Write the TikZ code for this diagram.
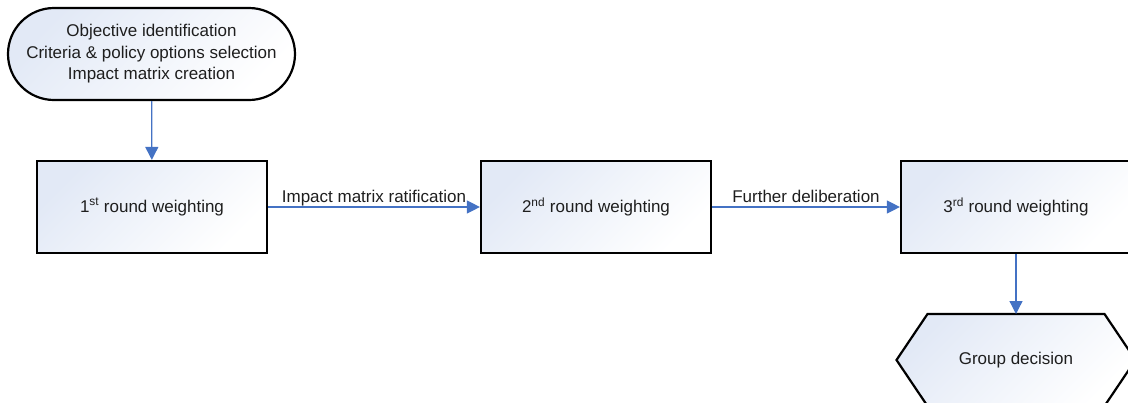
\documentclass[tikz,border=0pt]{standalone}
\usepackage{fontspec}
\setmainfont{Liberation Sans}
\usetikzlibrary{arrows.meta,calc}
\definecolor{arrowblue}{HTML}{4472C4}
\definecolor{shadeblue}{HTML}{E2E9F6}
\definecolor{txt}{HTML}{1E1E1E}
\begin{document}
\begin{tikzpicture}[x=1pt,y=-1pt,
  lbltext/.style={font=\fontsize{17}{21.5}\selectfont, text=txt},
  box/.style={draw=black, line width=2.2pt, minimum width=230pt, minimum height=92pt,
    top color=shadeblue, bottom color=white, shading angle=45, lbltext, align=center},
  conn/.style={draw=arrowblue, line width=1.3pt, -{Triangle[length=13pt,width=13pt]}},
  edgelbl/.style={lbltext, anchor=base, yshift=5pt, inner sep=0pt, midway}]
\useasboundingbox (0,0) rectangle (1128,402);
\clip (0,0) rectangle (1128,402);
\node[box, minimum width=287pt, rounded corners=46pt] (start) at (151.5,54)
  {Objective identification\\Criteria \& policy options selection\\Impact matrix creation};
\node[box] (b1) at (152,207) {1\textsuperscript{st} round weighting};
\node[box] (b2) at (596,207) {2\textsuperscript{nd} round weighting};
\node[box] (b3) at (1016,207) {3\textsuperscript{rd} round weighting};
\node[minimum width=239pt, minimum height=92pt, outer sep=0pt, inner sep=0pt] (gd) at (1016,360) {};
\shadedraw[draw=black, line width=2.2pt, top color=shadeblue, bottom color=white, shading angle=45]
  ($(gd.north west)+(31,0)$) -- ($(gd.north east)+(-31,0)$) -- (gd.east)
  -- ($(gd.south east)+(-31,0)$) -- ($(gd.south west)+(31,0)$) -- (gd.west) -- cycle;
\node[lbltext] (gdtext) at (gd.center) {Group decision};
\draw[conn] (start) -- (b1);
\draw[conn] (b1) -- node[edgelbl] (l1) {Impact matrix ratification} (b2);
\draw[conn] (b2) -- node[edgelbl] (l2) {Further deliberation} (b3);
\draw[conn] (b3) -- (gd.north);
\end{tikzpicture}
\end{document}
